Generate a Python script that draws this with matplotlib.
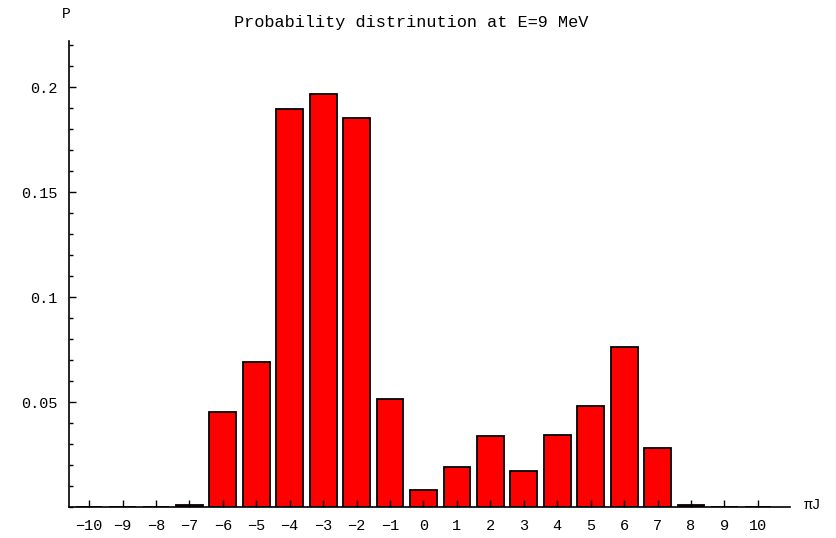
import matplotlib
matplotlib.use("Agg")
import matplotlib.pyplot as plt
from matplotlib.ticker import MultipleLocator, FixedLocator

# Angular momentum projections and their probabilities
j_values = [-10, -9, -8, -7, -6, -5, -4, -3, -2, -1, 0, 1, 2, 3, 4, 5, 6, 7, 8, 9, 10]
probabilities = [0.0, 0.0, 0.0, 0.0008, 0.0454, 0.0689, 0.1894, 0.1967, 0.1851, 0.0516,
                 0.0081, 0.0190, 0.0337, 0.0171, 0.0344, 0.0482, 0.0763, 0.0279, 0.0008, 0.0, 0.0]
y_ticks = [0.05, 0.1, 0.15, 0.2]
y_tick_labels = ["0.05", "0.1", "0.15", "0.2"]
title = "Probability distrinution at E=9 MeV"

mono = ["Liberation Mono", "DejaVu Sans Mono"]
plt.rcParams["font.family"] = mono

fig = plt.figure(figsize=(8.36, 5.38), dpi=100)
ax = fig.add_axes([69 / 836, 1 - 507 / 538, (790 - 69) / 836, (507 - 41) / 538])

ax.bar(j_values, probabilities, width=0.8, color="#ff0000", edgecolor="black", linewidth=1.3)

ax.set_xlim(-10.6, 10.96)
ax.set_ylim(0, 0.222)

for side in ("top", "right"):
    ax.spines[side].set_visible(False)
for side in ("left", "bottom"):
    ax.spines[side].set_linewidth(1.2)

ax.xaxis.set_major_locator(FixedLocator(j_values))
ax.set_xticklabels([str(v).replace("-", "\u2212") for v in j_values])
ax.yaxis.set_major_locator(FixedLocator(y_ticks))
ax.set_yticklabels(y_tick_labels)
ax.yaxis.set_minor_locator(MultipleLocator(0.01))

ax.tick_params(axis="both", which="major", direction="in", length=5, width=1, labelsize=11, pad=8)
ax.tick_params(axis="y", which="minor", direction="in", length=3, width=1)
ax.tick_params(axis="x", which="major", pad=9)

fig.text(411 / 836, 1 - 22 / 538, title, ha="center", va="center", fontsize=12.2)
fig.text(66 / 836, 1 - 14 / 538, "P", ha="center", va="center", fontsize=10.5)
fig.text(813 / 836, 1 - 505 / 538, "\u03c0J", ha="center", va="center", fontsize=10.5)

fig.savefig("out.png", dpi=100)
